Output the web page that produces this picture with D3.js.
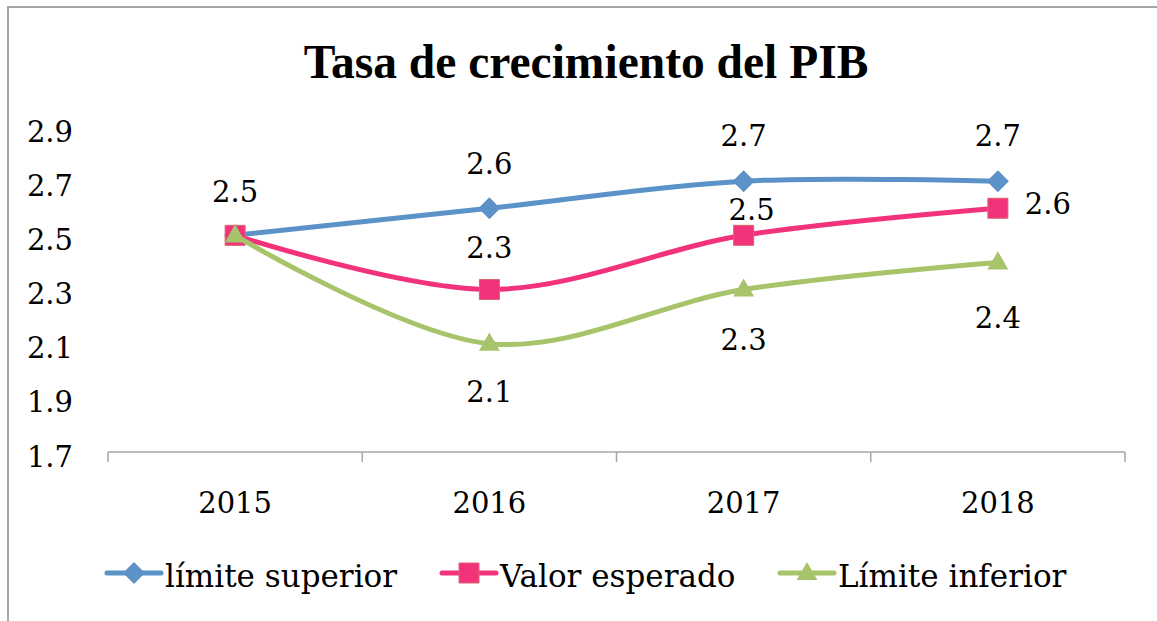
<!DOCTYPE html>
<html>
<head>
<meta charset="utf-8">
<script src="https://cdn.jsdelivr.net/npm/d3@7"></script>
<style>
    body { margin: 0; background: #fff; }
    #chart { width: 1157px; height: 621px; }
    text { font-family: "DejaVu Serif", serif; fill: #000; }
</style>
</head>
<body>
<div id="chart"></div>
<script>

// chart data
const years = ["2015", "2016", "2017", "2018"];
const limiteSuperior = [2.5, 2.6, 2.7, 2.7];
const valorEsperado = [2.5, 2.3, 2.5, 2.6];
const limiteInferior = [2.5, 2.1, 2.3, 2.4];
const yTicks = [1.7, 1.9, 2.1, 2.3, 2.5, 2.7, 2.9];
const seriesNames = ["límite superior", "Valor esperado", "Límite inferior"];
const chartTitle = "Tasa de crecimiento del PIB";

class LineChart {
    constructor(parentElement) {
        this.parentElement = parentElement;
        this.format = d3.format(".1f");
        this.initVis();
    }

    initVis() {
        let vis = this;

        vis.width = 1157;
        vis.height = 621;

        vis.svg = d3.select("#" + vis.parentElement)
            .append("svg")
            .attr("width", vis.width)
            .attr("height", vis.height);

        // chart border (only top and left visible in the picture)
        vis.svg.append("rect")
            .attr("x", 8)
            .attr("y", 7)
            .attr("width", vis.width + 20)
            .attr("height", vis.height + 20)
            .attr("fill", "none")
            .attr("stroke", "#a6a6a6")
            .attr("stroke-width", 2);

        vis.svg.append("text")
            .attr("x", 586)
            .attr("y", 78)
            .attr("text-anchor", "middle")
            .style("font-family", "'Liberation Serif', serif")
            .style("font-weight", "bold")
            .style("font-size", "47.5px")
            .text(chartTitle);

        vis.x = d3.scaleBand()
            .domain(years)
            .range([108, 1125]);

        vis.y = d3.scaleLinear()
            .domain([1.7, 2.9])
            .range([452, 127]);

        // y axis, labels only
        let yAxis = vis.svg.append("g")
            .attr("transform", "translate(73,0)")
            .call(d3.axisLeft(vis.y).tickValues(yTicks).tickFormat(vis.format).tickSize(0).tickPadding(0));
        yAxis.select(".domain").remove();
        yAxis.selectAll("text")
            .attr("dy", 14)
            .style("font-family", "'DejaVu Serif', serif")
            .style("font-size", "29px")
            .attr("fill", "#000");

        // x axis
        let xAxis = vis.svg.append("g")
            .attr("transform", "translate(0,452)")
            .call(d3.axisBottom(vis.x).tickSize(0).tickPadding(0));
        xAxis.select(".domain").remove();
        xAxis.selectAll("text")
            .attr("dy", 61)
            .style("font-family", "'DejaVu Serif', serif")
            .style("font-size", "29px")
            .attr("fill", "#000");

        vis.svg.append("line")
            .attr("x1", vis.x.range()[0])
            .attr("x2", vis.x.range()[1])
            .attr("y1", 452)
            .attr("y2", 452)
            .attr("stroke", "#a6a6a6")
            .attr("stroke-width", 1.5);

        let boundaries = years.map(d => vis.x(d)).concat([vis.x.range()[1]]);
        vis.svg.append("g")
            .selectAll("line")
            .data(boundaries)
            .enter()
            .append("line")
            .attr("x1", d => d)
            .attr("x2", d => d)
            .attr("y1", 452)
            .attr("y2", 462)
            .attr("stroke", "#a6a6a6")
            .attr("stroke-width", 1.5);

        vis.series = [
            { name: seriesNames[0], values: limiteSuperior, color: "#5b93c9", marker: "diamond" },
            { name: seriesNames[1], values: valorEsperado, color: "#f2337c", marker: "square" },
            { name: seriesNames[2], values: limiteInferior, color: "#a7c46a", marker: "triangle" }
        ];

        // label offsets (center of label relative to point); null = no label
        vis.labelOffsets = [
            [[0, -44], [0, -45], [0, -46], [0, -46]],
            [null, [0, -42], [8, -26], [50, -5]],
            [null, [0, 48], [0, 50], [0, 55]]
        ];

        vis.updateVis();
    }

    marker(sel, type, color) {
        if (type === "diamond") {
            sel.append("path")
                .attr("d", d3.symbol(d3.symbolSquare, 242)())
                .attr("transform", "rotate(45)")
                .attr("fill", color);
        } else if (type === "square") {
            sel.append("path")
                .attr("d", d3.symbol(d3.symbolSquare, 400)())
                .attr("fill", color)
                .attr("stroke", "#d8646c")
                .attr("stroke-width", 1);
        } else {
            sel.append("path")
                .attr("d", d3.symbol(d3.symbolTriangle, 190)())
                .attr("transform", "translate(0,1)")
                .attr("fill", color);
        }
    }

    updateVis() {
        let vis = this;

        let line = d3.line()
            .x((d, i) => vis.x(years[i]) + vis.x.bandwidth() / 2)
            .y(d => vis.y(d))
            .curve(d3.curveCatmullRom.alpha(0.5));

        vis.series.forEach((s, si) => {
            let g = vis.svg.append("g");

            g.append("path")
                .datum(s.values)
                .attr("d", line)
                .attr("fill", "none")
                .attr("stroke", s.color)
                .attr("stroke-width", 5)
                .attr("stroke-linecap", "round");

            g.selectAll(".pt")
                .data(s.values)
                .enter()
                .append("g")
                .attr("class", "pt")
                .attr("transform", (d, i) => "translate(" + (vis.x(years[i]) + vis.x.bandwidth() / 2) + "," + vis.y(d) + ")")
                .each(function () {
                    vis.marker(d3.select(this), s.marker, s.color);
                });
        });

        // data labels on top
        vis.series.forEach((s, si) => {
            vis.svg.append("g")
                .selectAll("text")
                .data(s.values.map((v, i) => ({ v: v, i: i, off: vis.labelOffsets[si][i] })).filter(d => d.off))
                .enter()
                .append("text")
                .attr("x", d => vis.x(years[d.i]) + vis.x.bandwidth() / 2 + d.off[0])
                .attr("y", d => vis.y(d.v) + d.off[1] + 10.5)
                .attr("text-anchor", "middle")
                .style("font-size", "29px")
                .text(d => vis.format(d.v));
        });

        // legend
        let legendX = [105, 440, 778];
        let legendY = 573;
        let legend = vis.svg.append("g");
        vis.series.forEach((s, i) => {
            let item = legend.append("g")
                .attr("transform", "translate(" + legendX[i] + "," + legendY + ")");
            item.append("line")
                .attr("x1", 2)
                .attr("x2", 56)
                .attr("stroke", s.color)
                .attr("stroke-width", 5)
                .attr("stroke-linecap", "round");
            let m = item.append("g").attr("transform", "translate(29,0)");
            vis.marker(m, s.marker, s.color);
            item.append("text")
                .attr("x", 60)
                .attr("y", 14)
                .style("font-size", "31px")
                .text(s.name);
        });
    }
}

new LineChart("chart");

</script>
</body>
</html>
